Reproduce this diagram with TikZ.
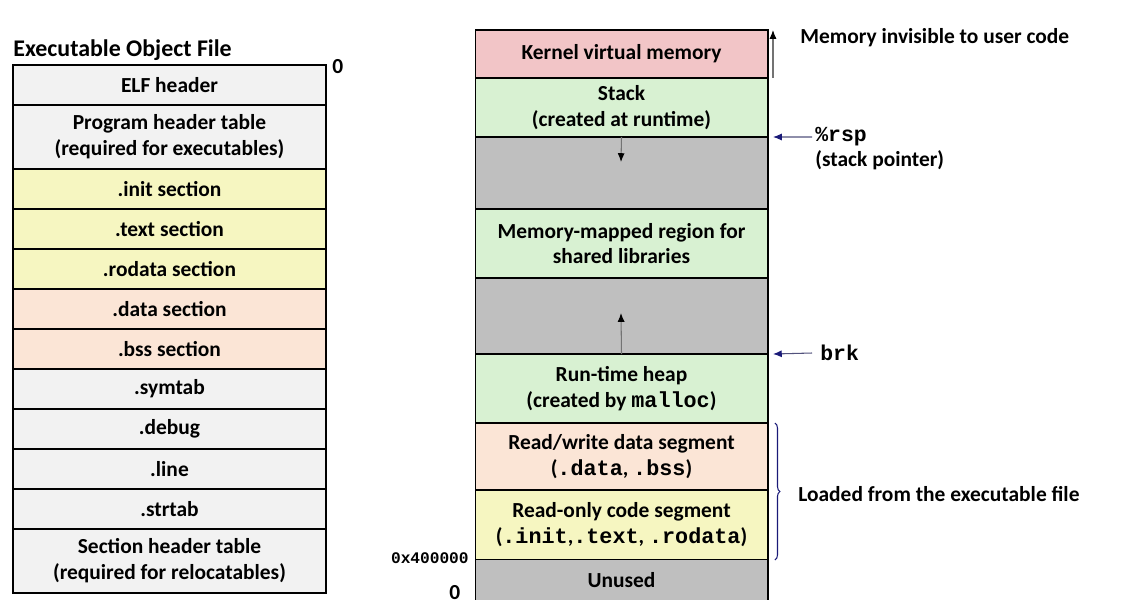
\documentclass[tikz,border=0pt]{standalone}
\usepackage{fontspec}
\setmainfont{Carlito}
\setmonofont{Liberation Mono}
\usetikzlibrary{arrows.meta,decorations.pathreplacing}
\definecolor{filegray}{HTML}{F2F2F2}
\definecolor{codeyellow}{HTML}{F6F6C1}
\definecolor{datapeach}{HTML}{FBE5D6}
\definecolor{kernpink}{HTML}{F2C5C7}
\definecolor{mapgreen}{HTML}{D8F1D2}
\definecolor{gapgray}{HTML}{BFBFBF}
\definecolor{ptrblue}{HTML}{1A1A78}
\colorlet{ptrline}{ptrblue!45!gray}
\newcommand\segfont{\fontsize{12.2}{14.7}\selectfont\bfseries}
\newcommand\code[1]{{\fontsize{12.4}{14.7}\selectfont\ttfamily\bfseries #1}}

\begin{document}
\begin{tikzpicture}[x=0.02cm, y=-0.02cm]
\tikzset{FileRow/.style ={draw, line width=1.1pt, minimum width=6.26cm, minimum height=0.8cm,
  inner sep=0, outer sep=0, align=center, font=\segfont}}
\tikzset{MemRow/.style ={draw, line width=0.6pt, minimum width=5.86cm,
  inner sep=0, outer sep=0, align=center, font=\segfont}}
\tikzset{Note/.style ={inner sep=0, anchor=west, font=\segfont}}
\tikzset{PtrArrow/.style ={ptrline, line width=0.6pt, -{Latex[length=5pt,width=4pt,fill=ptrblue,color=ptrblue]}}}
\tikzset{GrowArrow/.style ={black!55, line width=0.6pt, -{Latex[length=5pt,width=4pt,fill=black,color=black]}}}
\useasboundingbox (0,0) rectangle (1123,610);
% executable object file
\node[Note, font=\fontsize{13.6}{16}\selectfont\bfseries] (title) at (13,50) {Executable Object File};
\node[FileRow, fill=filegray] (elf) at (169.5,85) {ELF header};
\node[FileRow, fill=filegray, minimum height=1.28cm] (pht) at (169.5,137) {Program header table\\(required for executables)};
\node[FileRow, fill=codeyellow] (init) at (169.5,189) {.init section};
\node[FileRow, fill=codeyellow] (text) at (169.5,229) {.text section};
\node[FileRow, fill=codeyellow] (rodata) at (169.5,269) {.rodata section};
\node[FileRow, fill=datapeach] (data) at (169.5,309) {.data section};
\node[FileRow, fill=datapeach] (bss) at (169.5,349) {.bss section};
\node[FileRow, fill=filegray] (symtab) at (169.5,389) {.symtab};
\node[FileRow, fill=filegray] (debug) at (169.5,429) {.debug};
\node[FileRow, fill=filegray] (line) at (169.5,469) {.line};
\node[FileRow, fill=filegray] (strtab) at (169.5,509) {.strtab};
\node[FileRow, fill=filegray, minimum height=1.28cm] (sht) at (169.5,561) {Section header table\\(required for relocatables)};
\node[Note] (filezero) at (332,67) {0};
% process memory image
\node[MemRow, fill=kernpink, minimum height=0.96cm] (kernel) at (621.5,54) {Kernel virtual memory};
\node[MemRow, fill=mapgreen, minimum height=1.18cm] (stack) at (621.5,107.5) {Stack\\(created at runtime)};
\node[MemRow, fill=gapgray, minimum height=1.44cm] (gapup) at (621.5,173) {};
\node[MemRow, fill=mapgreen, minimum height=1.38cm] (mmap) at (621.5,243.5) {Memory-mapped region for\\shared libraries};
\node[MemRow, fill=gapgray, minimum height=1.52cm] (gapdown) at (621.5,316) {};
\node[MemRow, fill=mapgreen, minimum height=1.38cm] (heap) at (621.5,388.5) {Run-time heap\\(created by \code{malloc})};
\node[MemRow, fill=datapeach, minimum height=1.34cm] (rw) at (621.5,456.5) {Read/write data segment\\(\code{.data}, \code{.bss})};
\node[MemRow, fill=codeyellow, minimum height=1.4cm] (ro) at (621.5,525) {Read-only code segment\\(\code{.init},\code{.text}, \code{.rodata})};
\node[MemRow, draw=none, fill=gapgray, minimum height=0.8cm] (unused) at (621.5,580) {Unused};
\draw[line width=0.6pt] (unused.north west) -- (unused.south west);
\draw[line width=0.6pt] (unused.north east) -- (unused.south east);
\node[inner sep=0, anchor=east, font=\fontsize{9.2}{11}\selectfont\ttfamily\bfseries] (base) at (469,558) {0x400000};
\node[Note] (memzero) at (449,593) {0};
% growth arrows
\coordinate (stacktip) at (621,162);
\coordinate (heaptip) at (621,313);
\draw[GrowArrow] (stack.south) -- (stacktip);
\draw[GrowArrow] (heap.north) -- (heaptip);
% annotations
\draw[GrowArrow] ([xshift=0.1cm]kernel.south east) -- ([xshift=0.1cm]kernel.north east);
\node[Note] (invisible) at (800,38) {Memory invisible to user code};
\node[Note, font=\fontsize{12.2}{15}\selectfont\ttfamily\bfseries] (rsp) at (815,137) {\%rsp};
\node[Note] (stackptr) at (815,160) {(stack pointer)};
\draw[PtrArrow] ([xshift=-0.06cm]rsp.west) -- ([xshift=0.1cm]stack.south east);
\node[Note, font=\fontsize{12.2}{15}\selectfont\ttfamily\bfseries] (brk) at (820,353) {brk};
\draw[PtrArrow] ([xshift=-0.16cm]brk.west) -- ([xshift=0.1cm]heap.north east);
\draw[ptrblue, line width=0.6pt, decorate, decoration={brace, amplitude=0.1cm}]
  ([xshift=0.14cm]rw.north east) -- ([xshift=0.14cm]ro.south east);
\node[Note] (loaded) at (798,494) {Loaded from the executable file};
\end{tikzpicture}
\end{document}
